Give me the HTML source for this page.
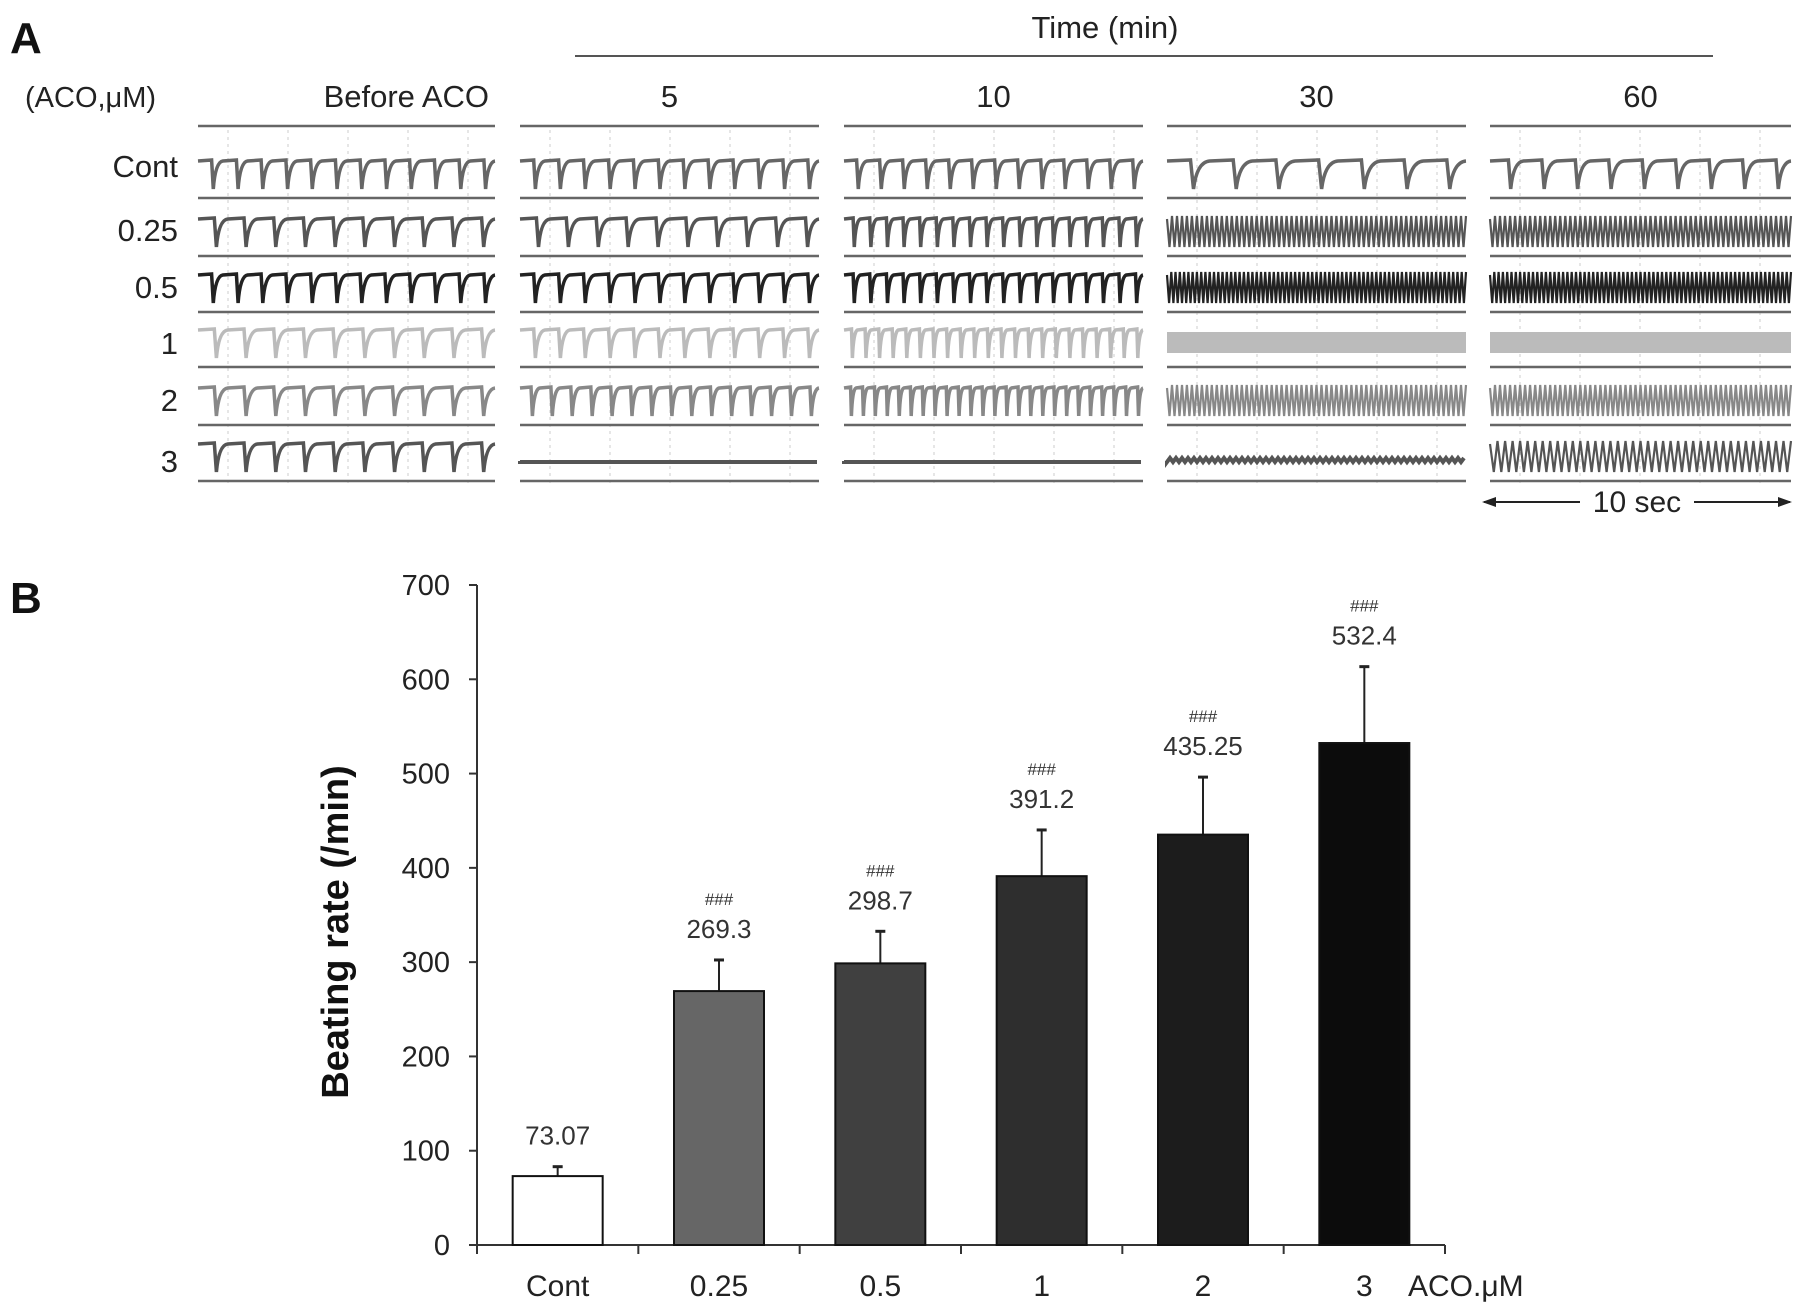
<!DOCTYPE html>
<html><head><meta charset="utf-8">
<style>
html,body{margin:0;padding:0;background:#fff;}
svg{display:block;font-family:"Liberation Sans",Arial,sans-serif;}
</style></head>
<body>
<svg id="fig" width="1795" height="1315" viewBox="0 0 1795 1315" xmlns="http://www.w3.org/2000/svg">
<g id="panelA">
<text x="10" y="53" font-size="44" font-weight="bold" fill="#111">A</text>
<text x="1105" y="38" font-size="31" text-anchor="middle" fill="#222">Time (min)</text>
<line x1="575" y1="56" x2="1713" y2="56" stroke="#555" stroke-width="2"/>
<text x="25" y="107" font-size="29" fill="#222">(ACO,μM)</text>
<g id="traces"></g>
<g>
<line x1="1484" y1="502" x2="1790" y2="502" stroke="#222" stroke-width="2"/>
<polygon points="1482,502 1496,497 1496,507" fill="#222"/>
<polygon points="1792,502 1778,497 1778,507" fill="#222"/>
<rect x="1580" y="488" width="114" height="28" fill="#fff"/>
<text x="1637" y="512" font-size="30" text-anchor="middle" fill="#222">10 sec</text>
</g>
</g>
<g id="panelB">
<text x="10" y="613" font-size="44" font-weight="bold" fill="#111">B</text>
<g id="chart"></g>
</g>
</svg>
<script>
// ---------- Panel B data ----------
const categories = ["Cont","0.25","0.5","1","2","3"];
const means = [73.07, 269.3, 298.7, 391.2, 435.25, 532.4];
const errors = [10, 33, 34, 49, 61, 81];
const valueLabels = ["73.07","269.3","298.7","391.2","435.25","532.4"];
const sigLabels = ["","###","###","###","###","###"];
const yTicks = [0,100,200,300,400,500,600,700];
const barFills = ["#ffffff","#666666","#404040","#2e2e2e","#1c1c1c","#0c0c0c"];

// ---------- Panel A data ----------
const rowLabels = ["Cont","0.25","0.5","1","2","3"];
const colLabels = ["Before ACO","5","10","30","60"];
// beats per 10 s window; 0 = flat trace, -1 = solid band
const beats = [
  [12,12,13,7,9],
  [10,10,18,60,60],
  [12,12,18,70,70],
  [10,12,22,-1,-1],
  [10,15,25,60,60],
  [10,0,0,0,40]
];
const rowColors = ["#666","#555","#222","#bbb","#888","#555"];

const NS="http://www.w3.org/2000/svg";
function mk(tag,attrs,parent){const e=document.createElementNS(NS,tag);for(const k in attrs)e.setAttribute(k,attrs[k]);parent.appendChild(e);return e;}

// ---- Panel A ----
(function(){
  const g=document.getElementById('traces');
  const colX=[[198,495],[520,819],[844,1143],[1167,1466],[1490,1791]];
  const seps=[126,198,256,312,367,425,481];
  const rowLabelY=[177,241,298,354,411,472];
  colLabels.forEach((c,j)=>{
    const t=mk('text',{x:j===0?489:(colX[j][0]+colX[j][1])/2,y:107,'font-size':31,'text-anchor':j===0?'end':'middle',fill:'#222'},g);
    t.textContent=c;
    
    
  });
  rowLabels.forEach((r,i)=>{
    const t=mk('text',{x:178,y:rowLabelY[i],'font-size':31,'text-anchor':'end',fill:'#222'},g);
    t.textContent=r;
    
    
  });
  colX.forEach((cx,j)=>{
    for(let k=0;k<5;k++){
      const gx=cx[0]+30+k*60;
      const gl=mk('line',{x1:gx,y1:130,x2:gx,y2:484,stroke:'#ccc','stroke-width':1,'stroke-dasharray':'3,4'},g);
      
      
    }
    seps.forEach(sy=>{
      const l=mk('line',{x1:cx[0],y1:sy,x2:cx[1],y2:sy,stroke:'#666','stroke-width':2.5},g);
      
      
    });
    rowLabels.forEach((r,i)=>{
      const top=seps[i+1]-40, bot=seps[i+1]-9;
      const n=beats[i][j], col=rowColors[i];
      let el;
      if(n===-1){
        el=mk('rect',{x:cx[0],y:top+5,width:cx[1]-cx[0],height:bot-top-10,fill:col},g);
      } else if(n===0){
        let d='M'+cx[0]+','+(top+20);
        for(let x=cx[0];x<=cx[1];x+=3){d+=' L'+x+','+(top+18+((x/3)%2?3:-1));}
        el=mk('path',{d:d,fill:'none',stroke:col,'stroke-width':4},g);
      } else {
        const w=cx[1]-cx[0], step=w/n, depth=bot-top;
        let d='M'+cx[0]+','+(top+3);
        for(let k=0;k<n;k++){
          const x0=cx[0]+k*step;
          if(n>30){
            d+=' L'+(x0+step*0.5).toFixed(1)+','+bot+' L'+(x0+step).toFixed(1)+','+top;
          } else {
            d+=' L'+(x0+step*0.55).toFixed(1)+','+(top+2)+' L'+(x0+step*0.62).toFixed(1)+','+(top+depth)+' Q'+(x0+step*0.7).toFixed(1)+','+(top+4)+' '+(x0+step).toFixed(1)+','+(top+3);
          }
        }
        el=mk('path',{d:d,fill:'none',stroke:col,'stroke-width':n>30?2.2:3.5},g);
      }
      
      
    });
  });
})();

// ---- Panel B ----
(function(){
  const g=document.getElementById('chart');
  const x0=477,x1=1445,yBase=1245,yTop=585,vmax=700;
  const y=v=>yBase-(v/vmax)*(yBase-yTop);
  const band=(x1-x0)/categories.length;
  const xc=i=>x0+band*(i+0.5);
  const bw=90;
  const ax=mk('line',{x1:x0,y1:yTop,x2:x0,y2:yBase,stroke:'#333','stroke-width':2},g);
  
  const bx=mk('line',{x1:x0,y1:yBase,x2:x1,y2:yBase,stroke:'#333','stroke-width':2},g);
  
  yTicks.forEach(v=>{
    const t=mk('line',{x1:x0-8,y1:y(v),x2:x0,y2:y(v),stroke:'#333','stroke-width':2},g);
    
    const l=mk('text',{x:x0-27,y:y(v)+10,'font-size':29,'text-anchor':'end',fill:'#222'},g);
    l.textContent=v;
    
  });
  for(let i=0;i<=categories.length;i++){
    const t=mk('line',{x1:x0+band*i,y1:yBase,x2:x0+band*i,y2:yBase+9,stroke:'#333','stroke-width':2},g);
    
  }
  const yt=mk('text',{x:0,y:0,'font-size':38,'font-weight':'bold','text-anchor':'middle',fill:'#111',transform:'translate(348,932) rotate(-90)'},g);
  yt.textContent='Beating rate (/min)';
  
  const xt=mk('text',{x:1408,y:1296,'font-size':30,fill:'#222'},g);
  xt.textContent='ACO.μM';
  
  categories.forEach((c,i)=>{
    const et=y(means[i]+errors[i]);
    const el=mk('line',{x1:xc(i),y1:et,x2:xc(i),y2:y(means[i]),stroke:'#222','stroke-width':2},g);
    
    const cap=mk('line',{x1:xc(i)-5,y1:et,x2:xc(i)+5,y2:et,stroke:'#222','stroke-width':3},g);
    
    const r=mk('rect',{x:xc(i)-bw/2,y:y(means[i]),width:bw,height:yBase-y(means[i]),fill:barFills[i],stroke:'#111','stroke-width':2},g);
    
    const vl=mk('text',{x:xc(i),y:et-22,'font-size':26,'text-anchor':'middle',fill:'#333'},g);
    vl.textContent=valueLabels[i];
    
    if(sigLabels[i]){
      const s=mk('text',{x:xc(i),y:et-55,'font-size':17,'text-anchor':'middle',fill:'#333'},g);
      s.textContent=sigLabels[i];
      
    }
    const cl=mk('text',{x:xc(i),y:1296,'font-size':30,'text-anchor':'middle',fill:'#222'},g);
    cl.textContent=c;
    
  });
})();
</script>
</body></html>
